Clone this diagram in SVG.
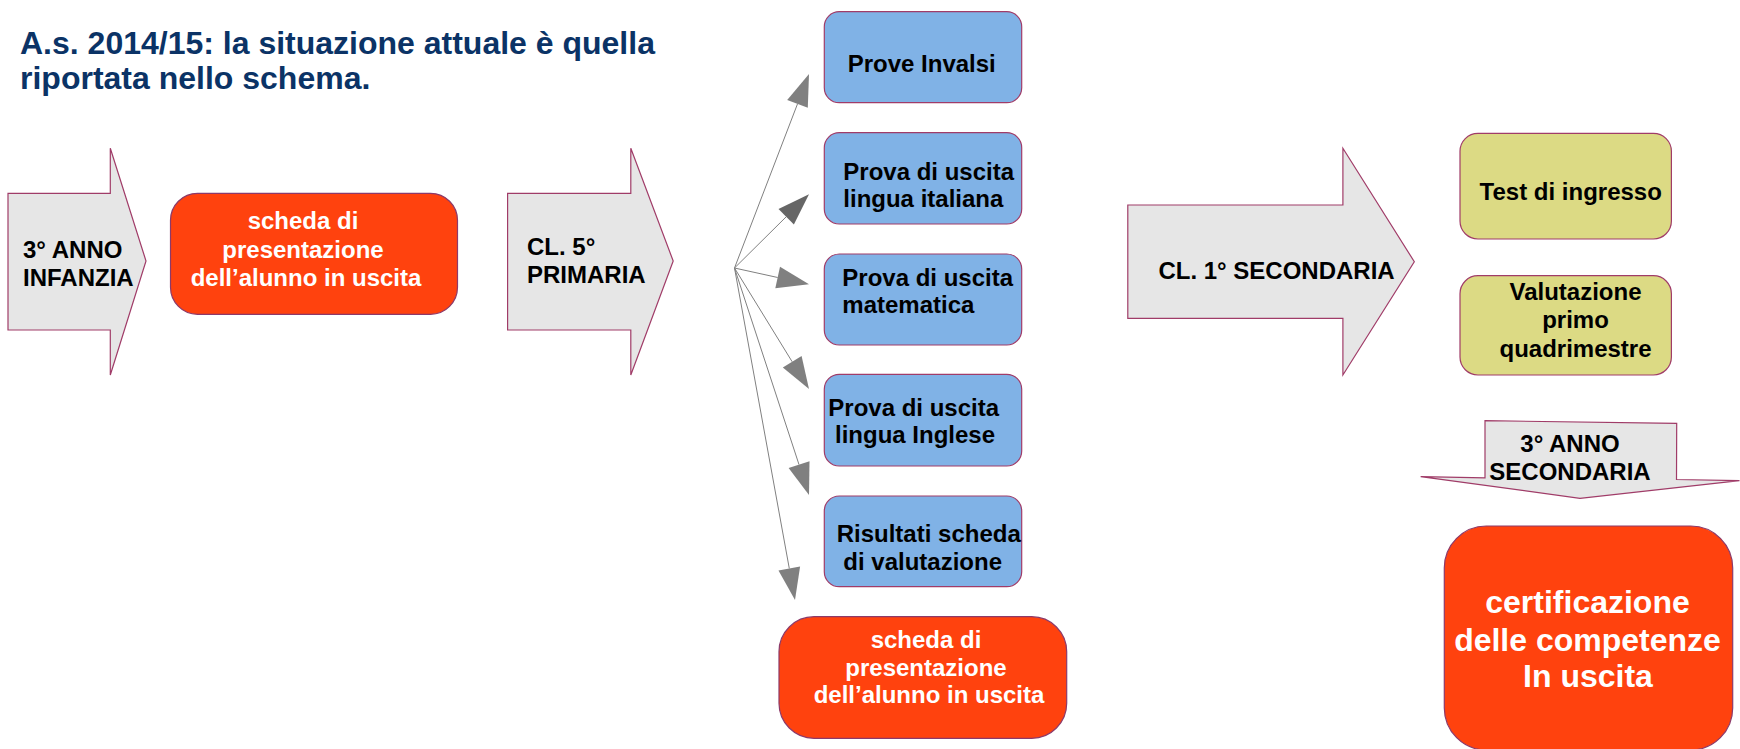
<svg xmlns="http://www.w3.org/2000/svg" width="1740" height="749" viewBox="0 0 1740 749">
<style>
text{font-family:"Liberation Sans",Arial,sans-serif;font-weight:bold;font-size:24px;fill:#000}
.title{font-size:32px;fill:#0b3366}
.w{fill:#fff}
.big{font-size:32px}
.mid{text-anchor:middle}
.arrow{fill:#e6e6e6;stroke:#a03c68;stroke-width:1.2}
.orange{fill:#ff420e;stroke:#8c3a6a;stroke-width:1.2}
.blue{fill:#80b2e6;stroke:#a03c68;stroke-width:1.2}
.green{fill:#dcda84;stroke:#a03c68;stroke-width:1.2}
.ln{stroke:#808080;stroke-width:1;fill:none}
.ah{fill:#808080}
.ahd{fill:#666}
</style>
<rect width="1740" height="749" fill="#fff"/>
<g id="title">
<text class="title" x="20" y="54">A.s. 2014/15: la situazione attuale è quella</text>
<text class="title" x="20" y="88.5">riportata nello schema.</text>
</g>
<g id="infanzia">
<polygon class="arrow" points="8,193.3 110.3,193.3 110.3,148.3 146,261 110.3,375 110.3,330 8,330"/>
<text x="23" y="258.3">3° ANNO</text>
<text x="23" y="285.7">INFANZIA</text>
</g>
<g id="scheda1">
<rect class="orange" x="170.5" y="193.3" width="287" height="121" rx="27"/>
<text class="w mid" x="303" y="229.3">scheda di</text>
<text class="w mid" x="303" y="258.3">presentazione</text>
<text class="w mid" x="306" y="285.7">dell’alunno in uscita</text>
</g>
<g id="primaria">
<polygon class="arrow" points="507.6,193.3 630.8,193.3 630.8,148.3 673.2,261 630.8,375 630.8,330 507.6,330"/>
<text x="527" y="255">CL. 5°</text>
<text x="527" y="283.3">PRIMARIA</text>
</g>
<g id="connectors">
<line class="ln" x1="734.5" y1="268" x2="797.5" y2="103.9"/>
<polygon class="ah" points="809,74 807.8,107.8 787.2,100"/>
<line class="ln" x1="734.5" y1="268" x2="786.2" y2="216.8"/>
<polygon class="ahd" points="809,194.3 793.9,224.6 778.5,209"/>
<line class="ln" x1="734.5" y1="268" x2="777.7" y2="277.5"/>
<polygon class="ah" points="809,284.3 775.3,288.2 780,266.8"/>
<line class="ln" x1="734.5" y1="268" x2="792.2" y2="361.8"/>
<polygon class="ah" points="809,389 782.8,367.6 801.6,356"/>
<line class="ln" x1="734.5" y1="268" x2="799" y2="464.6"/>
<polygon class="ah" points="809,495 788.6,468 809.5,461.2"/>
<line class="ln" x1="734.5" y1="268" x2="789.3" y2="568.5"/>
<polygon class="ah" points="795,600 778.5,570.5 800.1,566.5"/>
</g>
<g id="invalsi">
<rect class="blue" x="824.3" y="11.7" width="197.4" height="91" rx="15"/>
<text x="847.7" y="71.7">Prove Invalsi</text>
</g>
<g id="italiana">
<rect class="blue" x="824.3" y="132.7" width="197.4" height="91.3" rx="15"/>
<text x="843.3" y="180">Prova di uscita</text>
<text x="843.3" y="207.3">lingua italiana</text>
</g>
<g id="matematica">
<rect class="blue" x="824.3" y="254" width="197.4" height="91" rx="15"/>
<text x="842.3" y="285.7">Prova di uscita</text>
<text x="842.3" y="313.3">matematica</text>
</g>
<g id="inglese">
<rect class="blue" x="824.3" y="374.3" width="197.4" height="91.7" rx="15"/>
<text x="828.3" y="415.7">Prova di uscita</text>
<text x="835" y="443.3">lingua Inglese</text>
</g>
<g id="risultati">
<rect class="blue" x="824.3" y="496" width="197.4" height="90.7" rx="15"/>
<text x="836.7" y="542.3">Risultati scheda</text>
<text x="843.3" y="570">di valutazione</text>
</g>
<g id="scheda2">
<rect class="orange" x="779" y="616.7" width="287.7" height="121.6" rx="35"/>
<text class="w mid" x="926" y="648.3">scheda di</text>
<text class="w mid" x="926" y="676">presentazione</text>
<text class="w mid" x="929" y="703.3">dell’alunno in uscita</text>
</g>
<g id="secondaria1">
<polygon class="arrow" points="1127.8,205 1342.9,205 1342.9,148.3 1414.3,261.7 1342.9,375 1342.9,318.3 1127.8,318.3"/>
<text x="1158.4" y="279.3">CL. 1° SECONDARIA</text>
</g>
<g id="test">
<rect class="green" x="1460" y="133.3" width="211.4" height="105.7" rx="18"/>
<text x="1479.6" y="200">Test di ingresso</text>
</g>
<g id="valutazione">
<rect class="green" x="1460" y="275.7" width="211.4" height="99.3" rx="18"/>
<text class="mid" x="1575.5" y="300">Valutazione</text>
<text class="mid" x="1575.5" y="328.3">primo</text>
<text class="mid" x="1575.5" y="356.7">quadrimestre</text>
</g>
<g id="secondaria3">
<polygon class="arrow" points="1485,420.7 1676.7,423.3 1676.5,479.5 1739.5,480.7 1580,498.3 1420.7,476.7 1485,477.8"/>
<text class="mid" x="1570" y="452.3">3° ANNO</text>
<text class="mid" x="1570" y="480">SECONDARIA</text>
</g>
<g id="certificazione">
<rect class="orange" x="1444.3" y="526" width="288.4" height="224" rx="42"/>
<text class="w mid big" x="1587.5" y="612.7">certificazione</text>
<text class="w mid big" x="1587.5" y="650.7">delle competenze</text>
<text class="w mid big" x="1588" y="686.7">In uscita</text>
</g>
</svg>
